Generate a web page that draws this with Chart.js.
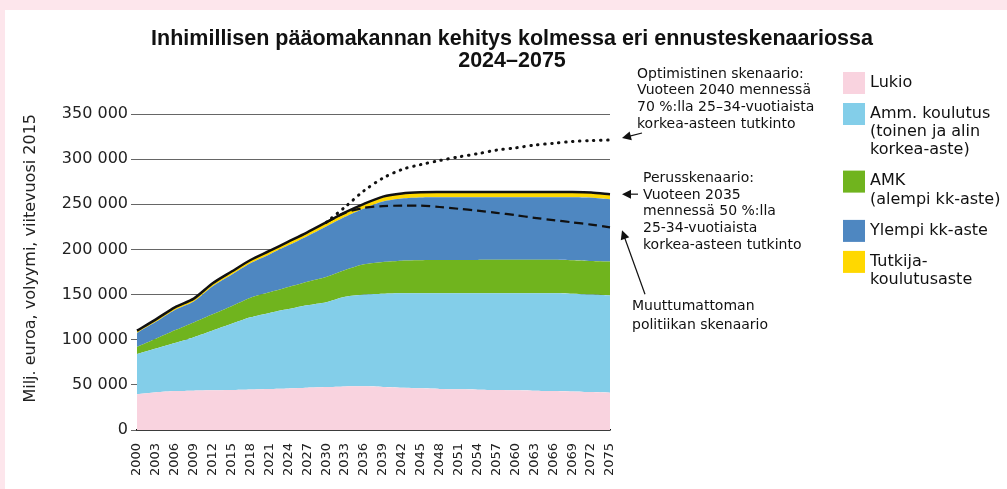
<!DOCTYPE html>
<html lang="fi">
<head>
<meta charset="utf-8">
<script src="https://cdn.jsdelivr.net/npm/chart.js@4.4.0/dist/chart.umd.min.js"></script>
<style>
  html, body { margin: 0; padding: 0; background: #fde6ec; width: 1007px; height: 489px; overflow: hidden; }
  #kehys { position: absolute; left: 5px; top: 10px; width: 1002px; height: 479px; background: #fff; }
</style>
</head>
<body>
<div id="kehys"><canvas id="kaavio" width="1002" height="479"></canvas></div>
<script>
// Vuodet (x-akseli), 3 vuoden välein
const vuodet = ["2000","2003","2006","2009","2012","2015","2018","2021","2024","2027","2030","2033","2036",
  "2039","2042","2045","2048","2051","2054","2057","2060","2063","2066","2069","2072","2075"];

// Perusskenaarion osat (milj. euroa)
const lukio   = [39500,41800,43200,43600,44000,44300,44900,45500,46100,46800,47500,48300,48400,
  47700,46900,46200,45500,45000,44700,44400,44100,43600,43200,42700,42000,41300];
const amm     = [44700,48500,53200,59200,66200,73300,79900,84200,87800,91300,94000,99200,101600,
  103300,104600,105300,106000,106500,106800,107100,107400,107900,108300,108300,108000,107700];
const amk     = [7800,10800,14000,16400,18000,19500,21700,22800,24500,26200,28000,29700,33500,
  35100,36000,36500,36700,36800,36900,37000,37000,37000,37000,37000,37200,37500];
const ylempi  = [15500,18700,22600,23200,31100,34900,38100,41900,46100,50400,56000,59000,61900,
  67000,68900,69500,69500,69400,69300,69200,69200,69200,69200,69700,70000,69100];
const tutkija = [2500,2700,2900,3100,3300,3500,3700,3900,4100,4300,4500,4800,5100,
  5400,5600,5800,5800,5800,5800,5800,5800,5800,5800,5800,5800,5600];

// Skenaarioiden kokonaismäärät
const perus = [110000,122500,135900,145500,162600,175500,188300,198300,208600,219000,230000,241000,250500,
  258500,262000,263300,263500,263500,263500,263500,263500,263500,263500,263500,263000,261200];
const optimisti = [null,null,null,null,null,null,null,null,null,null,230000,247000,265000,
  279000,288500,294000,298500,302500,306000,310000,312500,315500,317500,319500,320500,321200];
const muuttumaton = [null,null,null,null,null,null,null,null,null,null,230000,240500,246000,
  248000,248500,248500,247000,245000,243000,240500,238000,235000,232500,230000,227500,224500];

const otsikko = ["Inhimillisen pääomakannan kehitys kolmessa eri ennusteskenaariossa", "2024–2075"];
const yOtsikko = "Milj. euroa, volyymi, viitevuosi 2015";

const tekstiOpt = ["Optimistinen skenaario:", "Vuoteen 2040 mennessä", "70 %:lla 25–34-vuotiaista", "korkea-asteen tutkinto"];
const tekstiPerus = ["Perusskenaario:", "Vuoteen 2035", "mennessä 50 %:lla", "25-34-vuotiaista", "korkea-asteen tutkinto"];
const tekstiMuut = ["Muuttumattoman", "politiikan skenaario"];

function alue(label, data, color, fill) {
  return {
    label, data, stack: "alue", fill,
    backgroundColor: color, borderColor: color, borderWidth: 0,
    pointRadius: 0, tension: 0.25
  };
}

function nuoli(ctx, x1, y1, x2, y2) {
  const a = Math.atan2(y2 - y1, x2 - x1);
  ctx.beginPath();
  ctx.moveTo(x1, y1);
  ctx.lineTo(x2 - 6 * Math.cos(a), y2 - 6 * Math.sin(a));
  ctx.lineWidth = 1.2;
  ctx.stroke();
  ctx.beginPath();
  ctx.moveTo(x2, y2);
  ctx.lineTo(x2 - 9 * Math.cos(a) + 4.5 * Math.sin(a), y2 - 9 * Math.sin(a) - 4.5 * Math.cos(a));
  ctx.lineTo(x2 - 9 * Math.cos(a) - 4.5 * Math.sin(a), y2 - 9 * Math.sin(a) + 4.5 * Math.cos(a));
  ctx.closePath();
  ctx.fill();
}

// Otsikko, selite ja huomautukset piirretään itse
const tekstit = {
  id: "tekstit",
  afterDraw(chart) {
    const ctx = chart.ctx;
    const x = chart.scales.x, y = chart.scales.y;
    const n = vuodet.length - 1;
    const xEnd = x.getPixelForValue(n);
    ctx.save();
    ctx.fillStyle = "#111";
    ctx.strokeStyle = "#111";

    ctx.textAlign = "center";
    ctx.textBaseline = "alphabetic";
    ctx.font = 'bold 21.5px "Liberation Sans"';
    ctx.fillText(otsikko[0], 507, 35);
    ctx.fillText(otsikko[1], 507, 57);

    // selite
    ctx.textAlign = "left";
    ctx.textBaseline = "middle";
    ctx.font = '16px "DejaVu Sans"';
    let top = 62;
    chart.data.datasets.slice(0, 5).forEach(ds => {
      const rivit = ds.label.split("\n");
      ctx.fillStyle = ds.backgroundColor;
      ctx.fillRect(838, top, 22, 22);
      ctx.fillStyle = "#111";
      rivit.forEach((r, i) => ctx.fillText(r, 865, top + 10.5 + i * 18.3));
      top += rivit.length * 18.3 + 12.7;
    });

    // huomautukset
    ctx.font = '14px "DejaVu Sans"';
    tekstiOpt.forEach((r, i) => ctx.fillText(r, 632, 64 + i * 16.7));
    tekstiPerus.forEach((r, i) => ctx.fillText(r, 638, 168.3 + i * 16.7));
    tekstiMuut.forEach((r, i) => ctx.fillText(r, 627, 296.7 + i * 18.3));

    const yOpt = y.getPixelForValue(optimisti[n]);
    const yPer = y.getPixelForValue(perus[n]);
    const yMuu = y.getPixelForValue(muuttumaton[n]);
    nuoli(ctx, xEnd + 32, yOpt - 7, xEnd + 12, yOpt - 2);
    nuoli(ctx, xEnd + 28, yPer, xEnd + 12, yPer);
    nuoli(ctx, xEnd + 35, yMuu + 67, xEnd + 12, yMuu + 3);
    ctx.restore();
  }
};

new Chart(document.getElementById("kaavio"), {
  type: "line",
  data: {
    labels: vuodet,
    datasets: [
      alue("Lukio", lukio, "#f9d3df", "origin"),
      alue("Amm. koulutus\n(toinen ja alin\nkorkea-aste)", amm, "#83cee9", "-1"),
      alue("AMK\n(alempi kk-aste)", amk, "#70b41e", "-1"),
      alue("Ylempi kk-aste", ylempi, "#4e87c1", "-1"),
      alue("Tutkija-\nkoulutusaste", tutkija, "#ffd800", "-1"),
      {
        label: "Perusskenaario", data: perus, stack: "perus", order: -1, fill: false,
        borderColor: "#111", borderWidth: 2.5, pointRadius: 0, tension: 0.25
      },
      {
        label: "Optimistinen skenaario", data: optimisti, stack: "opt", order: -1, fill: false,
        borderColor: "#111", borderWidth: 3, borderDash: [0.5, 6.5], borderCapStyle: "round",
        pointRadius: 0, tension: 0.3
      },
      {
        label: "Muuttumattoman politiikan skenaario", data: muuttumaton, stack: "muut", order: -1, fill: false,
        borderColor: "#111", borderWidth: 2.2, borderDash: [9, 5], pointRadius: 0, tension: 0.3
      }
    ]
  },
  options: {
    responsive: false,
    animation: false,
    layout: { padding: { left: 12, right: 397, top: 104, bottom: 0 } },
    plugins: {
      legend: { display: false },
      title: { display: false },
      tooltip: { enabled: false }
    },
    scales: {
      x: {
        grid: { display: false },
        border: { display: true, color: "#111", width: 1.5 },
        ticks: {
          autoSkip: false, maxRotation: 90, minRotation: 90, padding: 5,
          color: "#222", font: { family: "DejaVu Sans", size: 13 }
        },
        afterFit(s) { s.height = 59; }
      },
      y: {
        stacked: true,
        min: 0, max: 350000,
        grid: { color: "#666", tickLength: 6 },
        border: { display: false },
        ticks: {
          stepSize: 50000, padding: 3, color: "#222",
          font: { family: "DejaVu Sans", size: 16 },
          callback: v => String(v).replace(/\B(?=(\d{3})+(?!\d))/g, " ")
        },
        title: {
          display: true, text: yOtsikko, align: "end", color: "#222",
          font: { family: "DejaVu Sans", size: 16 }
        },
        afterFit(s) { s.width = 120; }
      }
    }
  },
  plugins: [tekstit]
});
</script>
</body>
</html>
